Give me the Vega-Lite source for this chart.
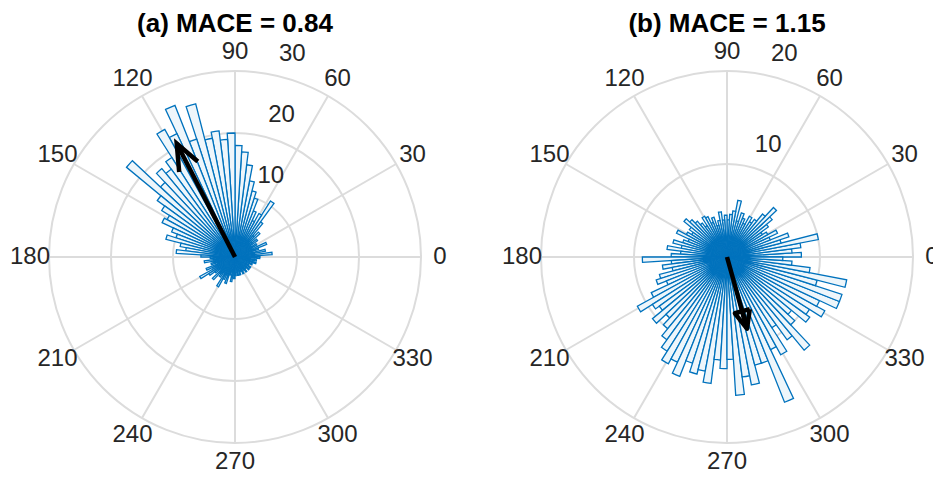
{
  "$schema": "https://vega.github.io/schema/vega-lite/v6.json",
  "padding": {"left": 10, "top": 11, "right": 5, "bottom": 5},
  "background": "white",
  "config": {
    "view": {"stroke": null},
    "title": {"font": "Liberation Sans", "fontSize": 26, "fontWeight": "bold", "color": "#000000", "frame": "group", "anchor": "middle", "offset": 3},
    "text": {"font": "Liberation Sans"}
  },
  "spacing": 120,
  "bounds": "flush",
  "datasets": {
    "spokes": [{"a": 0}, {"a": 30}, {"a": 60}, {"a": 90}, {"a": 120}, {"a": 150}, {"a": 180}, {"a": 210}, {"a": 240}, {"a": 270}, {"a": 300}, {"a": 330}],
    "ringsA": [{"r": 10}, {"r": 20}, {"r": 30}],
    "ringsB": [{"r": 10}, {"r": 20}],
    "arrowA": [
      {"seg": "shaft", "o": 0, "x": 0, "y": 0},
      {"seg": "shaft", "o": 1, "x": -9.4, "y": 18.3},
      {"seg": "head", "o": 0, "x": -6.0, "y": 15.4},
      {"seg": "head", "o": 1, "x": -9.4, "y": 18.3},
      {"seg": "head", "o": 2, "x": -9.0, "y": 13.7}
    ],
    "arrowB": [
      {"seg": "shaft", "o": 0, "x": 0, "y": 0},
      {"seg": "shaft", "o": 1, "x": 2.15, "y": -7.71},
      {"seg": "head", "o": 0, "x": 2.45, "y": -5.6},
      {"seg": "head", "o": 1, "x": 2.15, "y": -7.71},
      {"seg": "head", "o": 2, "x": 0.85, "y": -6.05},
      {"seg": "head", "o": 3, "x": 2.45, "y": -5.6},
      {"seg": "fill", "o": 0, "x": 1.65, "y": -5.9},
      {"seg": "fill", "o": 1, "x": 2.1, "y": -7.2}
    ],
    "binsA": [
      {"a0": 0, "a1": 3.6, "n": 4}, {"a0": 3.6, "a1": 7.2, "n": 6}, {"a0": 7.2, "a1": 10.8, "n": 3}, {"a0": 10.8, "a1": 14.4, "n": 5}, {"a0": 14.4, "a1": 18, "n": 3},
      {"a0": 18, "a1": 21.6, "n": 4}, {"a0": 21.6, "a1": 25.2, "n": 5.5}, {"a0": 25.2, "a1": 28.8, "n": 3}, {"a0": 28.8, "a1": 32.4, "n": 4}, {"a0": 32.4, "a1": 36, "n": 3},
      {"a0": 36, "a1": 39.6, "n": 4.5}, {"a0": 39.6, "a1": 43.2, "n": 3.5}, {"a0": 43.2, "a1": 46.8, "n": 5.5}, {"a0": 46.8, "a1": 50.4, "n": 4.5}, {"a0": 50.4, "a1": 54, "n": 7},
      {"a0": 54, "a1": 57.6, "n": 10.7}, {"a0": 57.6, "a1": 61.2, "n": 8}, {"a0": 61.2, "a1": 64.8, "n": 6.5}, {"a0": 64.8, "a1": 68.4, "n": 8}, {"a0": 68.4, "a1": 72, "n": 10},
      {"a0": 72, "a1": 75.6, "n": 11}, {"a0": 75.6, "a1": 79.2, "n": 12.5}, {"a0": 79.2, "a1": 82.8, "n": 15}, {"a0": 82.8, "a1": 86.4, "n": 17}, {"a0": 86.4, "a1": 90, "n": 18},
      {"a0": 90, "a1": 93.6, "n": 20}, {"a0": 93.6, "a1": 97.2, "n": 19}, {"a0": 97.2, "a1": 100.8, "n": 20.5}, {"a0": 100.8, "a1": 104.4, "n": 19.5}, {"a0": 104.4, "a1": 108, "n": 25.5},
      {"a0": 108, "a1": 111.6, "n": 20}, {"a0": 111.6, "a1": 115.2, "n": 26.3}, {"a0": 115.2, "a1": 118.8, "n": 22}, {"a0": 118.8, "a1": 122.4, "n": 23.5}, {"a0": 122.4, "a1": 126, "n": 19},
      {"a0": 126, "a1": 129.6, "n": 17.5}, {"a0": 129.6, "a1": 133.2, "n": 18.5}, {"a0": 133.2, "a1": 136.8, "n": 16.5}, {"a0": 136.8, "a1": 140.4, "n": 22.7}, {"a0": 140.4, "a1": 144, "n": 15.5},
      {"a0": 144, "a1": 147.6, "n": 14}, {"a0": 147.6, "a1": 151.2, "n": 12.5}, {"a0": 151.2, "a1": 154.8, "n": 13}, {"a0": 154.8, "a1": 158.4, "n": 11}, {"a0": 158.4, "a1": 162, "n": 10},
      {"a0": 162, "a1": 165.6, "n": 11.5}, {"a0": 165.6, "a1": 169.2, "n": 9}, {"a0": 169.2, "a1": 172.8, "n": 8}, {"a0": 172.8, "a1": 176.4, "n": 9.5}, {"a0": 176.4, "a1": 180, "n": 5.5},
      {"a0": 180, "a1": 183.6, "n": 4}, {"a0": 183.6, "a1": 187.2, "n": 3}, {"a0": 187.2, "a1": 190.8, "n": 5}, {"a0": 190.8, "a1": 194.4, "n": 3.5}, {"a0": 194.4, "a1": 198, "n": 4},
      {"a0": 198, "a1": 201.6, "n": 3}, {"a0": 201.6, "a1": 205.2, "n": 5}, {"a0": 205.2, "a1": 208.8, "n": 4}, {"a0": 208.8, "a1": 212.4, "n": 6.5}, {"a0": 212.4, "a1": 216, "n": 5},
      {"a0": 216, "a1": 219.6, "n": 4}, {"a0": 219.6, "a1": 223.2, "n": 3}, {"a0": 223.2, "a1": 226.8, "n": 5}, {"a0": 226.8, "a1": 230.4, "n": 3.5}, {"a0": 230.4, "a1": 234, "n": 4},
      {"a0": 234, "a1": 237.6, "n": 3}, {"a0": 237.6, "a1": 241.2, "n": 5.5}, {"a0": 241.2, "a1": 244.8, "n": 4}, {"a0": 244.8, "a1": 248.4, "n": 3}, {"a0": 248.4, "a1": 252, "n": 4.5},
      {"a0": 252, "a1": 255.6, "n": 3}, {"a0": 255.6, "a1": 259.2, "n": 2.5}, {"a0": 259.2, "a1": 262.8, "n": 4}, {"a0": 262.8, "a1": 266.4, "n": 3}, {"a0": 266.4, "a1": 270, "n": 3.5},
      {"a0": 270, "a1": 273.6, "n": 3}, {"a0": 273.6, "a1": 277.2, "n": 2.5}, {"a0": 277.2, "a1": 280.8, "n": 3}, {"a0": 280.8, "a1": 284.4, "n": 2}, {"a0": 284.4, "a1": 288, "n": 3},
      {"a0": 288, "a1": 291.6, "n": 2}, {"a0": 291.6, "a1": 295.2, "n": 2.5}, {"a0": 295.2, "a1": 298.8, "n": 3}, {"a0": 298.8, "a1": 302.4, "n": 2}, {"a0": 302.4, "a1": 306, "n": 2.5},
      {"a0": 306, "a1": 309.6, "n": 3}, {"a0": 309.6, "a1": 313.2, "n": 2}, {"a0": 313.2, "a1": 316.8, "n": 2.5}, {"a0": 316.8, "a1": 320.4, "n": 3}, {"a0": 320.4, "a1": 324, "n": 2},
      {"a0": 324, "a1": 327.6, "n": 3}, {"a0": 327.6, "a1": 331.2, "n": 2.5}, {"a0": 331.2, "a1": 334.8, "n": 2}, {"a0": 334.8, "a1": 338.4, "n": 3}, {"a0": 338.4, "a1": 342, "n": 2.5},
      {"a0": 342, "a1": 345.6, "n": 3.5}, {"a0": 345.6, "a1": 349.2, "n": 2.5}, {"a0": 349.2, "a1": 352.8, "n": 3.5}, {"a0": 352.8, "a1": 356.4, "n": 2.5}, {"a0": 356.4, "a1": 360, "n": 4}
    ],
    "binsB": [
      {"a0": 0, "a1": 3.6, "n": 8}, {"a0": 3.6, "a1": 7.2, "n": 7}, {"a0": 7.2, "a1": 10.8, "n": 8}, {"a0": 10.8, "a1": 14.4, "n": 10}, {"a0": 14.4, "a1": 18, "n": 6},
      {"a0": 18, "a1": 21.6, "n": 7}, {"a0": 21.6, "a1": 25.2, "n": 5}, {"a0": 25.2, "a1": 28.8, "n": 6}, {"a0": 28.8, "a1": 32.4, "n": 5}, {"a0": 32.4, "a1": 36, "n": 4.5},
      {"a0": 36, "a1": 39.6, "n": 5.5}, {"a0": 39.6, "a1": 43.2, "n": 6.3}, {"a0": 43.2, "a1": 46.8, "n": 7.3}, {"a0": 46.8, "a1": 50.4, "n": 6}, {"a0": 50.4, "a1": 54, "n": 5},
      {"a0": 54, "a1": 57.6, "n": 4.5}, {"a0": 57.6, "a1": 61.2, "n": 5}, {"a0": 61.2, "a1": 64.8, "n": 4}, {"a0": 64.8, "a1": 68.4, "n": 4.5}, {"a0": 68.4, "a1": 72, "n": 5},
      {"a0": 72, "a1": 75.6, "n": 4}, {"a0": 75.6, "a1": 79.2, "n": 6.2}, {"a0": 79.2, "a1": 82.8, "n": 5}, {"a0": 82.8, "a1": 86.4, "n": 4.6}, {"a0": 86.4, "a1": 90, "n": 4},
      {"a0": 90, "a1": 93.6, "n": 4.5}, {"a0": 93.6, "a1": 97.2, "n": 4}, {"a0": 97.2, "a1": 100.8, "n": 4.9}, {"a0": 100.8, "a1": 104.4, "n": 4}, {"a0": 104.4, "a1": 108, "n": 3.5},
      {"a0": 108, "a1": 111.6, "n": 4.5}, {"a0": 111.6, "a1": 115.2, "n": 4}, {"a0": 115.2, "a1": 118.8, "n": 4.8}, {"a0": 118.8, "a1": 122.4, "n": 5}, {"a0": 122.4, "a1": 126, "n": 4},
      {"a0": 126, "a1": 129.6, "n": 4.5}, {"a0": 129.6, "a1": 133.2, "n": 5}, {"a0": 133.2, "a1": 136.8, "n": 5.5}, {"a0": 136.8, "a1": 140.4, "n": 6}, {"a0": 140.4, "a1": 144, "n": 5},
      {"a0": 144, "a1": 147.6, "n": 4.5}, {"a0": 147.6, "a1": 151.2, "n": 5}, {"a0": 151.2, "a1": 154.8, "n": 6}, {"a0": 154.8, "a1": 158.4, "n": 4.5}, {"a0": 158.4, "a1": 162, "n": 5},
      {"a0": 162, "a1": 165.6, "n": 6}, {"a0": 165.6, "a1": 169.2, "n": 5}, {"a0": 169.2, "a1": 172.8, "n": 6.5}, {"a0": 172.8, "a1": 176.4, "n": 5}, {"a0": 176.4, "a1": 180, "n": 6},
      {"a0": 180, "a1": 183.6, "n": 9.1}, {"a0": 183.6, "a1": 187.2, "n": 6}, {"a0": 187.2, "a1": 190.8, "n": 7}, {"a0": 190.8, "a1": 194.4, "n": 6}, {"a0": 194.4, "a1": 198, "n": 7.5},
      {"a0": 198, "a1": 201.6, "n": 8}, {"a0": 201.6, "a1": 205.2, "n": 7}, {"a0": 205.2, "a1": 208.8, "n": 9}, {"a0": 208.8, "a1": 212.4, "n": 11}, {"a0": 212.4, "a1": 216, "n": 9.5},
      {"a0": 216, "a1": 219.6, "n": 9}, {"a0": 219.6, "a1": 223.2, "n": 10.4}, {"a0": 223.2, "a1": 226.8, "n": 9}, {"a0": 226.8, "a1": 230.4, "n": 10}, {"a0": 230.4, "a1": 234, "n": 11},
      {"a0": 234, "a1": 237.6, "n": 12}, {"a0": 237.6, "a1": 241.2, "n": 13.1}, {"a0": 241.2, "a1": 244.8, "n": 12.5}, {"a0": 244.8, "a1": 248.4, "n": 13.8}, {"a0": 248.4, "a1": 252, "n": 12},
      {"a0": 252, "a1": 255.6, "n": 13}, {"a0": 255.6, "a1": 259.2, "n": 12.5}, {"a0": 259.2, "a1": 262.8, "n": 13.7}, {"a0": 262.8, "a1": 266.4, "n": 11.1}, {"a0": 266.4, "a1": 270, "n": 12},
      {"a0": 270, "a1": 273.6, "n": 11}, {"a0": 273.6, "a1": 277.2, "n": 14.9}, {"a0": 277.2, "a1": 280.8, "n": 13}, {"a0": 280.8, "a1": 284.4, "n": 14}, {"a0": 284.4, "a1": 288, "n": 12},
      {"a0": 288, "a1": 291.6, "n": 12}, {"a0": 291.6, "a1": 295.2, "n": 16.8}, {"a0": 295.2, "a1": 298.8, "n": 11}, {"a0": 298.8, "a1": 302.4, "n": 12}, {"a0": 302.4, "a1": 306, "n": 9},
      {"a0": 306, "a1": 309.6, "n": 11}, {"a0": 309.6, "a1": 313.2, "n": 13}, {"a0": 313.2, "a1": 316.8, "n": 10}, {"a0": 316.8, "a1": 320.4, "n": 9}, {"a0": 320.4, "a1": 324, "n": 11},
      {"a0": 324, "a1": 327.6, "n": 10.5}, {"a0": 327.6, "a1": 331.2, "n": 12}, {"a0": 331.2, "a1": 334.8, "n": 11}, {"a0": 334.8, "a1": 338.4, "n": 13}, {"a0": 338.4, "a1": 342, "n": 13},
      {"a0": 342, "a1": 345.6, "n": 10}, {"a0": 345.6, "a1": 349.2, "n": 13.1}, {"a0": 349.2, "a1": 352.8, "n": 9}, {"a0": 352.8, "a1": 356.4, "n": 7}, {"a0": 356.4, "a1": 360, "n": 6}
    ]
  },
  "hconcat": [
    {
      "width": 372,
      "height": 372,
      "title": {"text": "(a) MACE = 0.84"},
      "layer": [
        {
          "data": {"name": "ringsA"},
          "mark": {"type": "arc", "filled": false, "stroke": "#dcdcdc", "strokeWidth": 2},
          "encoding": {
            "theta": {"datum": 0, "type": "quantitative", "scale": {"type": "linear", "domain": [0, 360], "range": [1.5707963, -4.712389], "zero": false, "nice": false}},
            "theta2": {"datum": 360},
            "radius": {"field": "r", "type": "quantitative", "stack": null, "scale": {"type": "linear", "domain": [0, 30], "range": [0, 186], "zero": true, "nice": false}}
          }
        },
        {
          "data": {"name": "spokes"},
          "mark": {"type": "arc", "filled": false, "stroke": "#dcdcdc", "strokeWidth": 2},
          "encoding": {
            "theta": {"field": "a", "type": "quantitative", "stack": null},
            "theta2": {"field": "a"},
            "radius": {"datum": 30, "type": "quantitative"}
          }
        },
        {
          "data": {"name": "spokes"},
          "mark": {"type": "text", "fontSize": 24, "color": "#262626", "align": "center", "baseline": "middle"},
          "encoding": {
            "theta": {"field": "a", "type": "quantitative", "stack": null},
            "radius": {"datum": 33.06, "type": "quantitative"},
            "text": {"field": "a", "type": "quantitative"}
          }
        },
        {
          "data": {"name": "ringsA"},
          "mark": {"type": "text", "fontSize": 24, "color": "#262626", "align": "center", "baseline": "middle", "dx": 25, "dy": -20},
          "encoding": {
            "theta": {"datum": 80, "type": "quantitative"},
            "radius": {"field": "r", "type": "quantitative", "stack": null},
            "text": {"field": "r", "type": "quantitative"}
          }
        },
        {
          "data": {"name": "binsA"},
          "mark": {"type": "arc", "fill": "#eef6fb", "stroke": "#0072BD", "strokeWidth": 1.3},
          "encoding": {
            "theta": {"field": "a0", "type": "quantitative", "stack": null},
            "theta2": {"field": "a1"},
            "radius": {"field": "n", "type": "quantitative"}
          }
        },
        {
          "data": {"name": "arrowA"},
          "mark": {"type": "line", "color": "#000000", "strokeWidth": 4.5, "strokeJoin": "miter"},
          "encoding": {
            "x": {"field": "x", "type": "quantitative", "scale": {"domain": [-30, 30], "nice": false, "zero": false}, "axis": null},
            "y": {"field": "y", "type": "quantitative", "scale": {"domain": [-30, 30], "nice": false, "zero": false}, "axis": null},
            "detail": {"field": "seg"},
            "order": {"field": "o", "type": "quantitative"}
          }
        }
      ]
    },
    {
      "width": 372,
      "height": 372,
      "title": {"text": "(b) MACE = 1.15"},
      "layer": [
        {
          "data": {"name": "ringsB"},
          "mark": {"type": "arc", "filled": false, "stroke": "#dcdcdc", "strokeWidth": 2},
          "encoding": {
            "theta": {"datum": 0, "type": "quantitative", "scale": {"type": "linear", "domain": [0, 360], "range": [1.5707963, -4.712389], "zero": false, "nice": false}},
            "theta2": {"datum": 360},
            "radius": {"field": "r", "type": "quantitative", "stack": null, "scale": {"type": "linear", "domain": [0, 20], "range": [0, 186], "zero": true, "nice": false}}
          }
        },
        {
          "data": {"name": "spokes"},
          "mark": {"type": "arc", "filled": false, "stroke": "#dcdcdc", "strokeWidth": 2},
          "encoding": {
            "theta": {"field": "a", "type": "quantitative", "stack": null},
            "theta2": {"field": "a"},
            "radius": {"datum": 20, "type": "quantitative"}
          }
        },
        {
          "data": {"name": "spokes"},
          "mark": {"type": "text", "fontSize": 24, "color": "#262626", "align": "center", "baseline": "middle"},
          "encoding": {
            "theta": {"field": "a", "type": "quantitative", "stack": null},
            "radius": {"datum": 22.04, "type": "quantitative"},
            "text": {"field": "a", "type": "quantitative"}
          }
        },
        {
          "data": {"name": "ringsB"},
          "mark": {"type": "text", "fontSize": 24, "color": "#262626", "align": "center", "baseline": "middle", "dx": 25, "dy": -20},
          "encoding": {
            "theta": {"datum": 80, "type": "quantitative"},
            "radius": {"field": "r", "type": "quantitative", "stack": null},
            "text": {"field": "r", "type": "quantitative"}
          }
        },
        {
          "data": {"name": "binsB"},
          "mark": {"type": "arc", "fill": "#eef6fb", "stroke": "#0072BD", "strokeWidth": 1.3},
          "encoding": {
            "theta": {"field": "a0", "type": "quantitative", "stack": null},
            "theta2": {"field": "a1"},
            "radius": {"field": "n", "type": "quantitative"}
          }
        },
        {
          "data": {"name": "arrowB"},
          "mark": {"type": "line", "color": "#000000", "strokeWidth": 4.5, "strokeJoin": "round"},
          "encoding": {
            "x": {"field": "x", "type": "quantitative", "scale": {"domain": [-20, 20], "nice": false, "zero": false}, "axis": null},
            "y": {"field": "y", "type": "quantitative", "scale": {"domain": [-20, 20], "nice": false, "zero": false}, "axis": null},
            "detail": {"field": "seg"},
            "order": {"field": "o", "type": "quantitative"}
          }
        }
      ]
    }
  ]
}
